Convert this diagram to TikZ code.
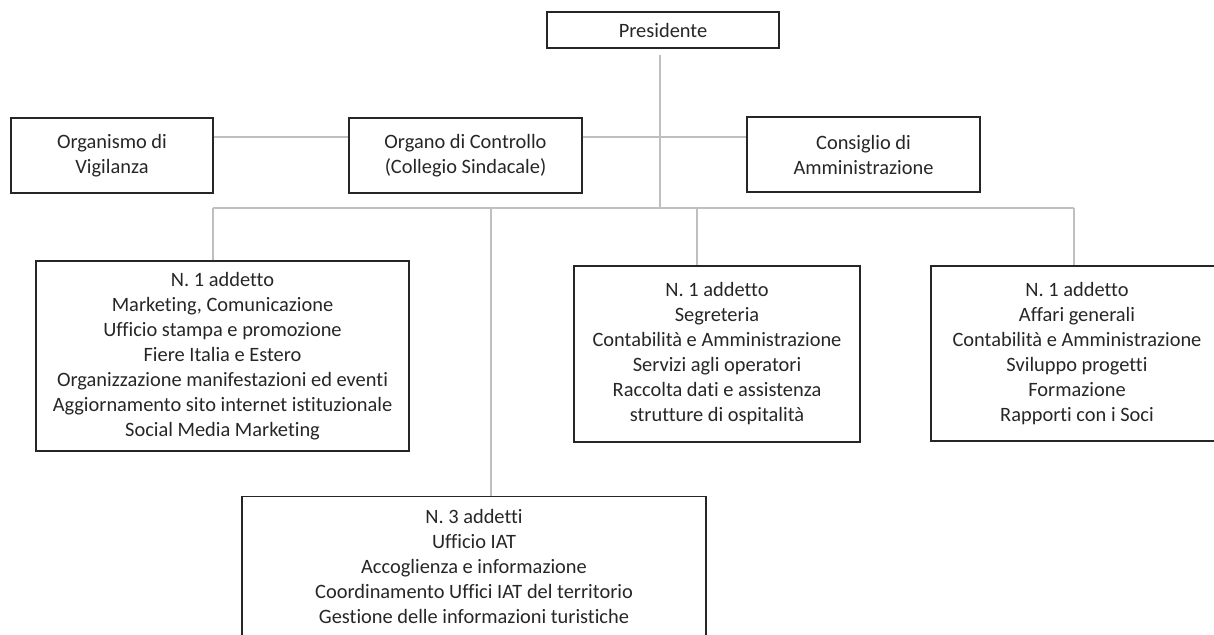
\documentclass[tikz,border=0pt]{standalone}
\usepackage{fontspec}
\setmainfont{Carlito}[Ligatures=NoCommon]
\usepackage{tikz}
\tikzset{
	box/.style={draw=black!85, line width=1.2pt, align=center, inner sep=0pt, text=black!85, font=\fontsize{20.4}{25}\selectfont},
	link/.style={draw=black!25, line width=1.1pt}
}

\begin{document}
\begin{tikzpicture}[x=1pt, y=-1pt]
		%%%%% START %%%%%
		\useasboundingbox (0, 0) rectangle (1214, 634);
		
		\node[box, minimum width=232pt, minimum height=36pt] (pres) at (663, 30) {Presidente};
		
		\node[box, minimum width=202pt, minimum height=75pt] (vig) at (112, 155.5) {Organismo di\\Vigilanza};
		\node[box, minimum width=233pt, minimum height=75pt] (ctl) at (465.5, 155.5) {Organo di Controllo\\(Collegio Sindacale)};
		\node[box, minimum width=233pt, minimum height=75pt] (cda) at (863.5, 154.5) {Consiglio di\\Amministrazione};
		
		\node[box, minimum width=373pt, minimum height=190pt] (mkt) at (222.5, 356) {N. 1 addetto\\Marketing, Comunicazione\\Ufficio stampa e promozione\\Fiere Italia e Estero\\Organizzazione manifestazioni ed eventi\\Aggiornamento sito internet istituzionale\\Social Media Marketing};
		\node[box, minimum width=286pt, minimum height=176pt] (segr) at (717, 354) {N. 1 addetto\\Segreteria\\Contabilità e Amministrazione\\Servizi agli operatori\\Raccolta dati e assistenza\\strutture di ospitalità};
		\node[box, minimum width=292pt, minimum height=175pt] (aff) at (1077, 353.5) {N. 1 addetto\\Affari generali\\Contabilità e Amministrazione\\Sviluppo progetti\\Formazione\\Rapporti con i Soci};
		\node[box, minimum width=464pt, minimum height=140pt, anchor=north] (iat) at (474, 496) {N. 3 addetti\\Ufficio IAT\\Accoglienza e informazione\\Coordinamento Uffici IAT del territorio\\Gestione delle informazioni turistiche};
		
		% presidente down to the bus
		\coordinate (ptop) at (660, 55);
		\coordinate (hub) at (660, 208);
		\draw[link] (ptop) -- (hub);
		
		% side line through the boards
		\coordinate (side) at (0, 137);
		\draw[link] (vig.east |- side) -- (ctl.west |- side);
		\draw[link] (ctl.east |- side) -- (cda.west |- side);
		
		% bus and drops
		\coordinate (b1) at (213, 208);
		\coordinate (b2) at (491, 208);
		\coordinate (b3) at (697, 208);
		\coordinate (b4) at (1074, 208);
		\draw[link] (b1) -- (b4);
		\draw[link] (b1) -- (b1 |- mkt.north);
		\draw[link] (b2) -- (b2 |- iat.north);
		\draw[link] (b3) -- (b3 |- segr.north);
		\draw[link] (b4) -- (b4 |- aff.north);
		
		%%%%% END %%%%%
\end{tikzpicture}
\end{document}
